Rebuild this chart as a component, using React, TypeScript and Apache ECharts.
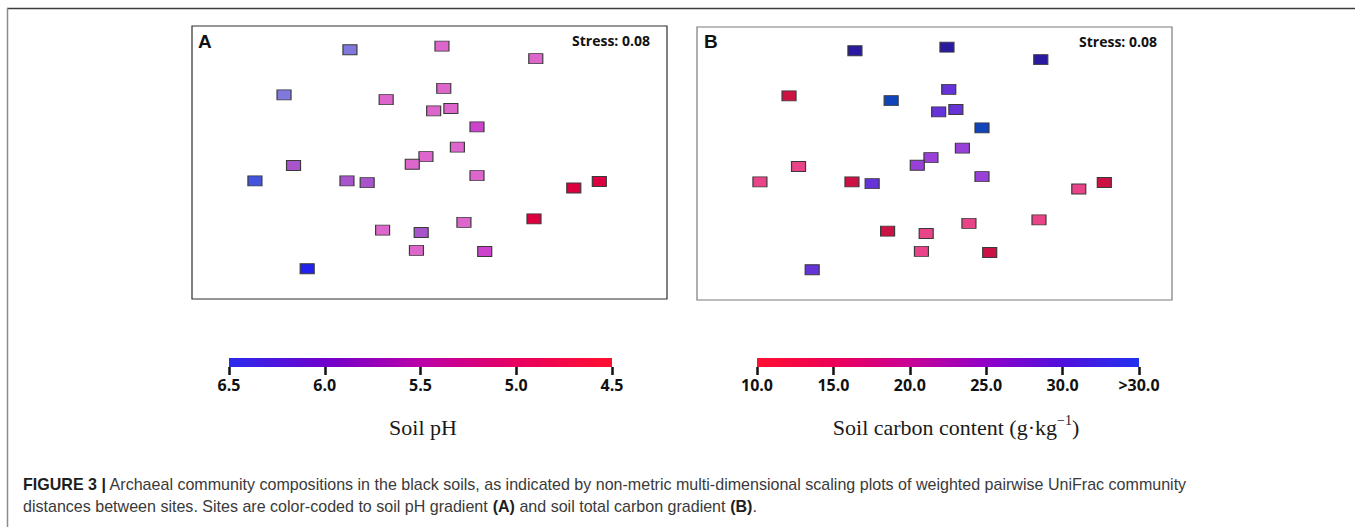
import React, { useEffect, useRef } from 'react';
import * as echarts from 'echarts';

// NMDS site coordinates (same ordination in both panels)
const siteNMDS1 = [-0.134, 0.021, 0.179, -0.245, -0.073, 0.024, 0.007, 0.036, 0.080, 0.047, -0.006, -0.029, -0.229, 0.080, -0.294, -0.139, -0.105, 0.286, 0.243, 0.176, 0.058, -0.079, -0.014, -0.022, 0.093, -0.206];
const siteNMDS2 = [0.190, 0.196, 0.175, 0.114, 0.106, 0.125, 0.087, 0.091, 0.060, 0.026, 0.010, -0.003, -0.005, -0.022, -0.031, -0.031, -0.034, -0.032, -0.043, -0.095, -0.101, -0.114, -0.118, -0.148, -0.150, -0.179];
// Soil pH per site (panel A colour)
const sitePH = [6.15, 5.25, 5.2, 6.1, 5.2, 5.25, 5.15, 5.2, 5.45, 5.2, 5.25, 5.2, 5.8, 5.2, 6.3, 5.8, 5.75, 4.65, 4.7, 4.6, 5.2, 5.25, 5.8, 5.2, 5.45, 6.45];
// Soil carbon content per site, g/kg (panel B colour)
const siteCarbon = [34, 34, 34, 12, 31, 28, 28, 28, 31, 25, 24, 23, 17, 24, 17, 12, 28, 12, 17, 17, 17, 12, 17, 17, 12, 28];

const phTickLabels = ['6.5', '6.0', '5.5', '5.0', '4.5'];
const carbonTickLabels = ['10.0', '15.0', '20.0', '25.0', '30.0', '>30.0'];

const stressText = 'Stress: 0.08';
const captionBold1 = 'FIGURE 3 |';
const captionRest1 = ' Archaeal community compositions in the black soils, as indicated by non-metric multi-dimensional scaling plots of weighted pairwise UniFrac community';

function measure(text: string, font: string): number {
  const c = document.createElement('canvas').getContext('2d')!;
  c.font = font;
  return c.measureText(text).width;
}

export default function App() {
  const ref = useRef<HTMLDivElement>(null);
  useEffect(() => {
    const chart = echarts.init(ref.current!, null, { renderer: 'svg' });

    const dataA = siteNMDS1.map((x, i) => [x, siteNMDS2[i], sitePH[i]]);
    const dataB = siteNMDS1.map((x, i) => [x, siteNMDS2[i], siteCarbon[i]]);

    const capFam = '"Liberation Sans", Arial, sans-serif';
    const capSize = 16;
    const w1 = measure(captionBold1, `bold ${capSize}px ${capFam}`) + measure(captionRest1, `${capSize}px ${capFam}`);
    const capScale = 1165 / w1;

    const serif = '"Liberation Serif", "Times New Roman", serif';
    const tSize = 22;
    const cMain = 'Soil carbon content (g\u00B7kg';
    const cSup = '\u22121';
    const cEnd = ')';
    const wMain = measure(cMain, `${tSize}px ${serif}`);
    const wSup = measure(cSup, `14px ${serif}`);
    const wEnd = measure(cEnd, `${tSize}px ${serif}`);
    const cStart = 956 - (wMain + wSup + wEnd) / 2;

    const boldSans = '"Open Sans", sans-serif';

    const colorAxis = (gridIndex: number, labels: string[]) => ({
      gridIndex,
      type: 'category',
      data: labels,
      boundaryGap: false,
      position: 'bottom',
      axisLine: { show: false },
      axisTick: { show: true, length: 8, interval: 0, lineStyle: { color: '#111', width: 2.5 } },
      axisLabel: { interval: 0, margin: 10, fontFamily: boldSans, fontWeight: 'bold', fontSize: 16, color: '#111' },
      splitLine: { show: false },
    });

    const option: any = {
      animation: false,
      backgroundColor: '#fff',
      grid: [
        { left: 192, top: 26, width: 475, height: 273, show: true, borderColor: '#2e2e2e', borderWidth: 1.2, backgroundColor: 'transparent' },
        { left: 697, top: 27, width: 475, height: 273, show: true, borderColor: '#7a7a7a', borderWidth: 1.2, backgroundColor: 'transparent' },
        { left: 229, top: 358, width: 383, height: 9 },
        { left: 757, top: 358, width: 382, height: 9 },
      ],
      xAxis: [
        { gridIndex: 0, type: 'value', min: -0.4, max: 0.4, show: false },
        { gridIndex: 1, type: 'value', min: -0.4, max: 0.4, show: false },
        colorAxis(2, phTickLabels),
        colorAxis(3, carbonTickLabels),
      ],
      yAxis: [
        { gridIndex: 0, type: 'value', min: -0.23, max: 0.23, show: false },
        { gridIndex: 1, type: 'value', min: -0.23, max: 0.23, show: false },
        { gridIndex: 2, type: 'value', show: false },
        { gridIndex: 3, type: 'value', show: false },
      ],
      visualMap: [
        {
          type: 'piecewise', show: false, seriesIndex: 0, dimension: 2,
          pieces: [
            { gte: 4.5, lt: 4.9, color: '#dd0040' },
            { gte: 4.9, lt: 5.35, color: '#dd66cc' },
            { gte: 5.35, lt: 5.6, color: '#cc44cc' },
            { gte: 5.6, lt: 6.0, color: '#a855cc' },
            { gte: 6.0, lt: 6.25, color: '#8078dc' },
            { gte: 6.25, lt: 6.4, color: '#4455dd' },
            { gte: 6.4, lte: 6.5, color: '#2222ee' },
          ],
        },
        {
          type: 'piecewise', show: false, seriesIndex: 1, dimension: 2,
          pieces: [
            { gte: 10, lt: 14, color: '#cc1144' },
            { gte: 14, lt: 20, color: '#ea4488' },
            { gte: 20, lt: 26, color: '#9940d8' },
            { gte: 26, lt: 30, color: '#6633d8' },
            { gte: 30, lt: 32, color: '#1144bb' },
            { gte: 32, lte: 40, color: '#2a1aa0' },
          ],
        },
      ],
      series: [
        {
          type: 'scatter', xAxisIndex: 0, yAxisIndex: 0, data: dataA,
          symbol: 'rect', symbolSize: [14, 10],
          itemStyle: { borderColor: '#3a3a3a', borderWidth: 1, opacity: 1 },
          emphasis: { disabled: true },
        },
        {
          type: 'scatter', xAxisIndex: 1, yAxisIndex: 1, data: dataB,
          symbol: 'rect', symbolSize: [14, 10],
          itemStyle: { borderColor: '#3a3a3a', borderWidth: 1, opacity: 1 },
          emphasis: { disabled: true },
        },
      ],
      graphic: [
        { type: 'line', shape: { x1: 7, y1: 8.5, x2: 1355, y2: 8.5 }, style: { stroke: '#3c3c3c', lineWidth: 1.5 }, silent: true },
        { type: 'line', shape: { x1: 7.5, y1: 8, x2: 7.5, y2: 527 }, style: { stroke: '#8a8a8a', lineWidth: 1.5 }, silent: true },
        {
          type: 'rect', shape: { x: 229, y: 358, width: 383, height: 9 },
          style: {
            fill: new echarts.graphic.LinearGradient(0, 0, 1, 0, [
              { offset: 0, color: '#2a2aee' },
              { offset: 0.25, color: '#7000cc' },
              { offset: 0.5, color: '#bb00a8' },
              { offset: 0.75, color: '#e80060' },
              { offset: 1, color: '#ff1030' },
            ]),
          },
          silent: true,
        },
        {
          type: 'rect', shape: { x: 757, y: 358, width: 382, height: 9 },
          style: {
            fill: new echarts.graphic.LinearGradient(0, 0, 1, 0, [
              { offset: 0, color: '#ff1030' },
              { offset: 0.2, color: '#ee0058' },
              { offset: 0.4, color: '#c80096' },
              { offset: 0.6, color: '#9000c8' },
              { offset: 0.8, color: '#5010dc' },
              { offset: 1, color: '#2233ee' },
            ]),
          },
          silent: true,
        },
        { type: 'text', x: 198, y: 41, style: { text: 'A', fontFamily: '"Liberation Sans", Arial, sans-serif', fontWeight: 'bold', fontSize: 19, fill: '#111', align: 'left', verticalAlign: 'middle', textAlign: 'left', textVerticalAlign: 'middle' } },
        { type: 'text', x: 704, y: 41, style: { text: 'B', fontFamily: '"Liberation Sans", Arial, sans-serif', fontWeight: 'bold', fontSize: 19, fill: '#111', align: 'left', verticalAlign: 'middle', textAlign: 'left', textVerticalAlign: 'middle' } },
        { type: 'text', x: 650, y: 40, style: { text: stressText, fontFamily: boldSans, fontWeight: 'bold', fontSize: 14, fill: '#111', align: 'right', verticalAlign: 'middle', textAlign: 'right', textVerticalAlign: 'middle' } },
        { type: 'text', x: 1157, y: 41, style: { text: stressText, fontFamily: boldSans, fontWeight: 'bold', fontSize: 14, fill: '#111', align: 'right', verticalAlign: 'middle', textAlign: 'right', textVerticalAlign: 'middle' } },
        { type: 'text', x: 423, y: 427, style: { text: 'Soil pH', fontFamily: serif, fontSize: tSize, fill: '#1a1a1a', align: 'center', verticalAlign: 'middle', textAlign: 'center', textVerticalAlign: 'middle' } },
        { type: 'text', x: cStart, y: 427, style: { text: cMain, fontFamily: serif, fontSize: tSize, fill: '#1a1a1a', align: 'left', verticalAlign: 'middle', textAlign: 'left', textVerticalAlign: 'middle' } },
        { type: 'text', x: cStart + wMain, y: 420, style: { text: cSup, fontFamily: serif, fontSize: 14, fill: '#1a1a1a', align: 'left', verticalAlign: 'middle', textAlign: 'left', textVerticalAlign: 'middle' } },
        { type: 'text', x: cStart + wMain + wSup, y: 427, style: { text: cEnd, fontFamily: serif, fontSize: tSize, fill: '#1a1a1a', align: 'left', verticalAlign: 'middle', textAlign: 'left', textVerticalAlign: 'middle' } },
        {
          type: 'text', x: 23, y: 484, scaleX: capScale, scaleY: 1,
          style: {
            text: `{b|${captionBold1}}{r|${captionRest1}}`,
            align: 'left', verticalAlign: 'middle', textAlign: 'left', textVerticalAlign: 'middle',
            rich: {
              b: { fontFamily: capFam, fontWeight: 'bold', fontSize: capSize, fill: '#1e1e1e' },
              r: { fontFamily: capFam, fontSize: capSize, fill: '#3a3a3a' },
            },
          },
        },
        {
          type: 'text', x: 23, y: 506, scaleX: capScale, scaleY: 1,
          style: {
            text: '{r|distances between sites. Sites are color-coded to soil pH gradient }{b|(A)}{r| and soil total carbon gradient }{b|(B)}{r|.}',
            align: 'left', verticalAlign: 'middle', textAlign: 'left', textVerticalAlign: 'middle',
            rich: {
              b: { fontFamily: capFam, fontWeight: 'bold', fontSize: capSize, fill: '#1e1e1e' },
              r: { fontFamily: capFam, fontSize: capSize, fill: '#3a3a3a' },
            },
          },
        },
      ],
    };

    chart.setOption(option);
    return () => chart.dispose();
  }, []);

  return (
    <div
      ref={ref}
      style={{ position: 'fixed', left: 0, top: 0, width: 1355, height: 527, background: '#fff' }}
    />
  );
}
